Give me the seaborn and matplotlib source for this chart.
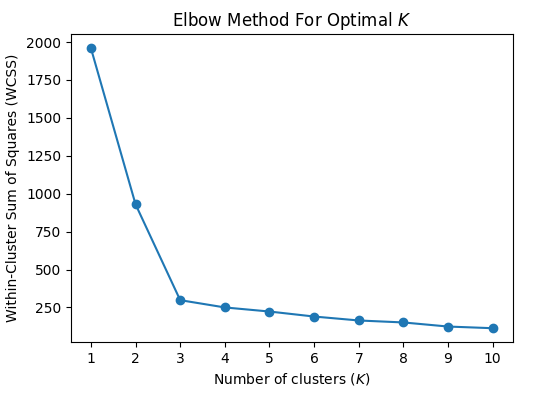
import pandas as pd
import matplotlib
matplotlib.use('Agg')
import matplotlib.pyplot as plt
import seaborn as sns

k_values = [1, 2, 3, 4, 5, 6, 7, 8, 9, 10]
wcss = [1960, 930, 298, 250, 223, 190, 164, 151, 124, 113]

data = pd.DataFrame({'k': k_values, 'wcss': wcss})

fig, ax = plt.subplots(figsize=(5.49, 3.97), dpi=100)
fig.subplots_adjust(left=0.129, right=0.934, top=0.914, bottom=0.138)

sns.lineplot(data=data, x='k', y='wcss', marker='o', color='#1f77b4',
             markersize=6, markeredgecolor='#1f77b4', markeredgewidth=1, ax=ax)

ax.set_xticks(k_values)
ax.set_title('Elbow Method For Optimal $K$')
ax.set_xlabel('Number of clusters ($K$)')
ax.set_ylabel('Within-Cluster Sum of Squares (WCSS)')

plt.savefig('out.png', dpi=100)
